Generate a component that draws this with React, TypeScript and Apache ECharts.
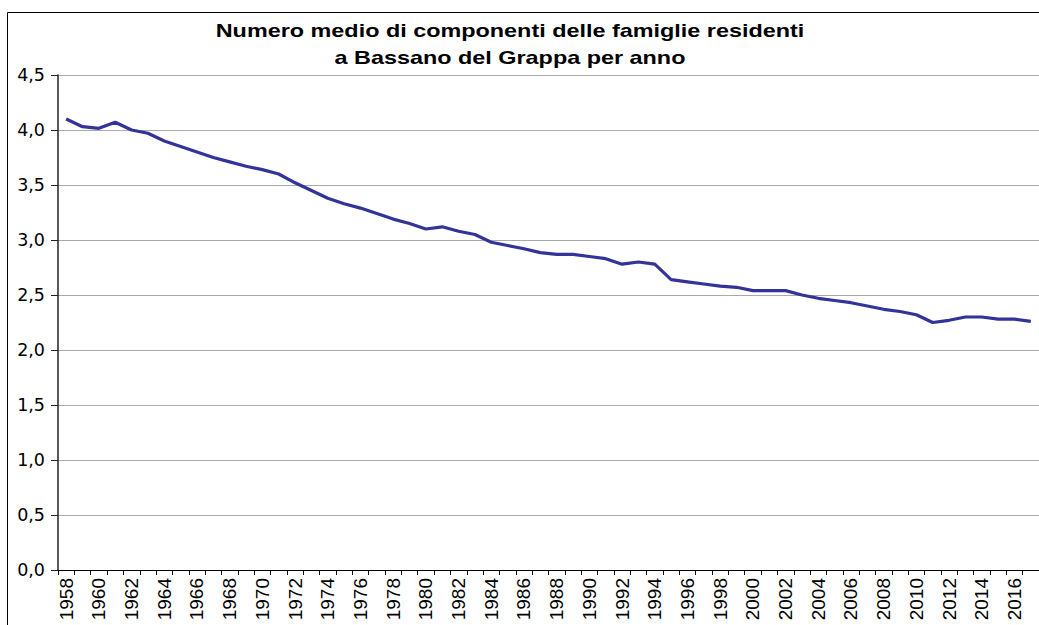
import React, { useEffect, useRef } from "react";
import * as echarts from "echarts";

const years: string[] = [];
for (let y = 1958; y <= 2017; y++) years.push(String(y));

const values = [
  4.10, 4.03, 4.015, 4.07, 4.00, 3.97, 3.90, 3.85, 3.80, 3.75,
  3.71, 3.67, 3.64, 3.60, 3.52, 3.45, 3.38, 3.33, 3.29, 3.24,
  3.19, 3.15, 3.10, 3.12, 3.08, 3.05, 2.98, 2.95, 2.92, 2.885,
  2.87, 2.87, 2.85, 2.83, 2.78, 2.80, 2.78, 2.64, 2.62, 2.60,
  2.58, 2.57, 2.54, 2.54, 2.54, 2.50, 2.47, 2.45, 2.43, 2.40,
  2.37, 2.35, 2.32, 2.25, 2.27, 2.30, 2.30, 2.28, 2.28, 2.26,
];

const titleLines = [
  "Numero medio di componenti delle famiglie residenti",
  "a Bassano del Grappa per anno",
];

const FONT = "Liberation Sans, Arial, sans-serif";

export default function App() {
  const ref = useRef<HTMLDivElement>(null);
  useEffect(() => {
    if (!ref.current) return;
    const chart = echarts.init(ref.current, null, { renderer: "svg" });
    chart.setOption({
      animation: false,
      backgroundColor: "#ffffff",
      textStyle: { fontFamily: FONT },
      graphic: [
        {
          type: "rect",
          shape: { x: 7.5, y: 12.5, width: 1060, height: 640 },
          style: { fill: "none", stroke: "#000000", lineWidth: 1 },
          silent: true,
        },
        {
          type: "text",
          x: 510,
          y: 31,
          scaleX: 1.3,
          style: {
            text: titleLines[0],
            fontSize: 18,
            fontWeight: "bold",
            fontFamily: FONT,
            fill: "#000",
            align: "center",
            verticalAlign: "middle",
          },
        },
        {
          type: "text",
          x: 510,
          y: 58,
          scaleX: 1.3,
          style: {
            text: titleLines[1],
            fontSize: 18,
            fontWeight: "bold",
            fontFamily: FONT,
            fill: "#000",
            align: "center",
            verticalAlign: "middle",
          },
        },
      ],
      grid: { left: 58, top: 75, width: 983, height: 495 },
      xAxis: {
        type: "category",
        data: years,
        boundaryGap: true,
        axisLine: { lineStyle: { color: "#000000", width: 1 } },
        axisTick: { show: true, interval: 0, length: 5, lineStyle: { color: "#000" } },
        axisLabel: {
          interval: 1,
          rotate: 90,
          fontSize: 19,
          color: "#000",
          margin: 8,
          fontFamily: FONT,
        },
        splitLine: { show: false },
      },
      yAxis: {
        type: "value",
        min: 0,
        max: 4.5,
        interval: 0.5,
        axisLine: { show: true, lineStyle: { color: "#222", width: 1.5 } },
        axisTick: { show: true, length: 7, lineStyle: { color: "#222" } },
        axisLabel: {
          fontSize: 17.5,
          color: "#000",
          margin: 13,
          formatter: (v: number) => v.toFixed(1).replace(".", ","),
          fontFamily: "DejaVu Sans, sans-serif",
        },
        splitLine: { show: true, lineStyle: { color: "#aaaaaa", width: 1 } },
      },
      series: [
        {
          type: "line",
          data: values,
          symbol: "none",
          lineStyle: { color: "#333399", width: 3.2 },
        },
      ],
    });
    return () => chart.dispose();
  }, []);
  return (
    <div
      ref={ref}
      style={{ position: "fixed", left: 0, top: 0, width: 1039, height: 625 }}
    />
  );
}
